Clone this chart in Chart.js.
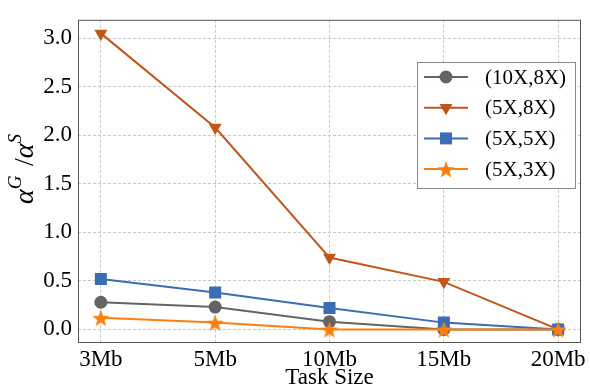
<!DOCTYPE html>
<html>
<head>
<meta charset="utf-8">
<script src="https://cdn.jsdelivr.net/npm/chart.js@4"></script>
<style>
  html, body { margin: 0; padding: 0; background: #fff; }
  #wrap { width: 590px; height: 392px; }
</style>
</head>
<body>
<div id="wrap"><canvas id="myChart" width="590" height="392"></canvas></div>
<script>
(function () {
  'use strict'

// categories on the x axis
var tamanhos = ['3Mb', '5Mb', '10Mb', '15Mb', '20Mb']

// series values (alpha^G / alpha^S)
var serie10x8x = [0.28, 0.23, 0.08, 0.0, 0.0]
var serie5x8x  = [3.05, 2.08, 0.74, 0.49, 0.0]
var serie5x5x  = [0.52, 0.38, 0.22, 0.07, 0.0]
var serie5x3x  = [0.12, 0.07, 0.0, 0.0, 0.0]

var nomes = ['(10X,8X)', '(5X,8X)', '(5X,5X)', '(5X,3X)']
var yTicks = [0.0, 0.5, 1.0, 1.5, 2.0, 2.5, 3.0]

var cores = ['#646464', '#c0561b', '#3b6db4', '#ff7f0e']

// star marker as image
function estrela(cor, R) {
  var c = document.createElement('canvas')
  var s = Math.ceil(R * 2 + 2)
  c.width = s; c.height = s
  var g = c.getContext('2d')
  g.fillStyle = cor
  g.beginPath()
  for (var i = 0; i < 10; i++) {
    var r = i % 2 === 0 ? R : R * 0.42
    var a = -Math.PI / 2 + i * Math.PI / 5
    var px = s / 2 + r * Math.cos(a), py = s / 2 + 1 + r * Math.sin(a)
    if (i === 0) g.moveTo(px, py); else g.lineTo(px, py)
  }
  g.closePath()
  g.fill()
  return c
}
var star = estrela(cores[3], 9)

function pontos(vals) {
  return vals.map(function (v, i) { return { x: i, y: v } })
}

var serif = "'Liberation Serif', 'DejaVu Serif', serif"

var datasets = [
  { label: nomes[0], data: pontos(serie10x8x), borderColor: cores[0], backgroundColor: cores[0],
    pointStyle: 'circle', pointRadius: 6.5, order: 4 },
  { label: nomes[1], data: pontos(serie5x8x), borderColor: cores[1], backgroundColor: cores[1],
    pointStyle: 'triangle', pointRotation: 180, pointRadius: 7.5, order: 3 },
  { label: nomes[2], data: pontos(serie5x5x), borderColor: cores[2], backgroundColor: cores[2],
    pointStyle: 'rect', pointRadius: 8.5, order: 2 },
  { label: nomes[3], data: pontos(serie5x3x), borderColor: cores[3], backgroundColor: cores[3],
    pointStyle: star, pointRadius: 9, order: 1 }
]
datasets.forEach(function (d) {
  d.borderWidth = 2
  d.pointBorderWidth = 0
  d.pointBorderColor = d.borderColor
  d.fill = false
  d.tension = 0
})

// frame, y title with superscripts, legend box
var extras = {
  id: 'extras',
  afterDatasetsDraw: function (chart) {
    var ctx = chart.ctx, a = chart.chartArea
    ctx.save()
    ctx.strokeStyle = '#555'
    ctx.lineWidth = 1
    ctx.strokeRect(a.left + 0.5, a.top + 0.5, a.right - a.left - 1, a.bottom - a.top - 1)

    // y title
    ctx.translate(33, 169)
    ctx.rotate(-Math.PI / 2)
    ctx.fillStyle = '#000'
    ctx.textBaseline = 'alphabetic'
    var big = 'italic 28px ' + serif, small = 'italic 19px ' + serif, reg = '28px ' + serif
    var partes = [
      { t: '\u03b1', f: big, dy: 0 }, { t: 'G', f: small, dy: -12 }, { t: '  ', f: small, dy: 0 },
      { t: '/', f: reg, dy: 0 }, { t: '\u03b1', f: big, dy: 0 }, { t: 'S', f: small, dy: -12 }
    ]
    var w = 0
    partes.forEach(function (p) { ctx.font = p.f; p.w = ctx.measureText(p.t).width; w += p.w })
    var x = -w / 2
    partes.forEach(function (p) { ctx.font = p.f; ctx.fillText(p.t, x, p.dy); x += p.w })
    ctx.restore()

    // legend
    ctx.save()
    var bx = 417, by = 62, bw = 158, bh = 126
    ctx.fillStyle = 'rgba(255,255,255,0.9)'
    ctx.fillRect(bx, by, bw, bh)
    ctx.strokeStyle = '#888'
    ctx.lineWidth = 1
    ctx.strokeRect(bx + 0.5, by + 0.5, bw, bh)
    ctx.font = '21px ' + serif
    ctx.textBaseline = 'middle'
    chart.data.datasets.forEach(function (d, i) {
      var yy = 77 + i * 30.7
      ctx.strokeStyle = d.borderColor
      ctx.lineWidth = 2
      ctx.beginPath(); ctx.moveTo(424, yy); ctx.lineTo(468, yy); ctx.stroke()
      ctx.fillStyle = d.backgroundColor
      Chart.helpers.drawPoint(ctx, {
        pointStyle: d.pointStyle, rotation: d.pointRotation || 0,
        radius: d.pointRadius, borderWidth: 0
      }, 446, yy)
      ctx.fillStyle = '#000'
      ctx.fillText(d.label, 485, yy + 1)
    })
    ctx.restore()
  }
}

var ctx = document.getElementById('myChart').getContext('2d')

new Chart(ctx, {
  type: 'line',
  data: { datasets: datasets },
  plugins: [extras],
  options: {
    responsive: false,
    animation: false,
    layout: { padding: { top: 8, right: 6, left: 0, bottom: 0 } },
    plugins: { legend: { display: false }, tooltip: { enabled: false } },
    scales: {
      x: {
        type: 'linear',
        min: -0.2,
        max: 4.2,
        afterBuildTicks: function (s) { s.ticks = tamanhos.map(function (_, i) { return { value: i } }) },
        ticks: {
          callback: function (v) { return tamanhos[v] },
          color: '#000',
          font: { family: serif, size: 23 },
          padding: 3,
          maxRotation: 0,
          autoSkip: false
        },
        grid: { color: '#c8c8c8', lineWidth: 1, drawTicks: false },
        border: { display: false, dash: [3, 2] },
        title: { display: true, text: 'Task Size', color: '#000', font: { family: serif, size: 23 }, padding: { top: 0, bottom: 0 } },
        afterFit: function (s) { s.height = 49 }
      },
      y: {
        min: -0.14,
        max: 3.19,
        afterBuildTicks: function (s) { s.ticks = yTicks.map(function (v) { return { value: v } }) },
        ticks: {
          callback: function (v) { return v.toFixed(1) },
          color: '#000',
          font: { family: serif, size: 23 },
          padding: 6
        },
        grid: { color: '#c8c8c8', lineWidth: 1, drawTicks: false },
        border: { display: false, dash: [3, 2] },
        afterFit: function (s) { s.width = 78 }
      }
    }
  }
})

})()
</script>
</body>
</html>
